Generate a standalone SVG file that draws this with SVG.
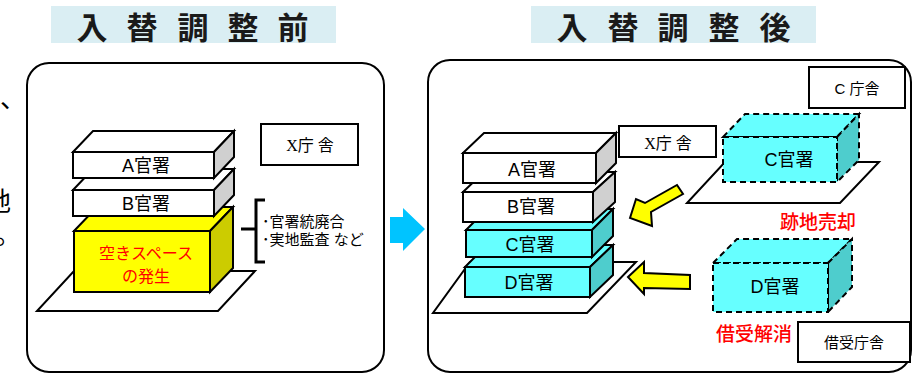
<svg xmlns="http://www.w3.org/2000/svg" width="913" height="374" viewBox="0 0 913 374">
<defs>
<style>
.panel{fill:#fff;stroke:#000;stroke-width:2}
.title{fill:#DAEEF3}
.tt{font-family:"Noto Sans CJK JP",sans-serif;font-size:31px;font-weight:700;fill:#1a1a1a}
.wf{fill:#fff;stroke:#000;stroke-width:2;stroke-linejoin:miter}
.ws{fill:#D0D0D0;stroke:#000;stroke-width:2}
.cf{fill:#66FFFF;stroke:#000;stroke-width:2}
.cs{fill:#4ECDCD;stroke:#000;stroke-width:2}
.yf{fill:#FFFF00;stroke:#000;stroke-width:2}
.ys{fill:#CCCC00;stroke:#000;stroke-width:2}
.dcf{fill:#66FFFF;stroke:#000;stroke-width:2;stroke-dasharray:6 4}
.dcs{fill:#4ECDCD;stroke:#000;stroke-width:2;stroke-dasharray:6 4}
.base{fill:#fff;stroke:#000;stroke-width:2}
.lbl{font-family:"Liberation Sans","Noto Sans CJK JP",sans-serif;font-size:18px;fill:#000;text-anchor:middle;dominant-baseline:central}
.box{fill:#fff;stroke:#000;stroke-width:2}
.sm{font-family:"Liberation Sans","Noto Sans CJK JP",sans-serif;font-size:15px;fill:#000;text-anchor:middle;dominant-baseline:central}
.xs{font-family:"Liberation Serif","Noto Sans CJK JP",serif;font-size:16px;fill:#000;text-anchor:middle;dominant-baseline:central}
.red{font-family:"Noto Sans CJK JP",sans-serif;font-size:19px;font-weight:500;fill:#FF0000;text-anchor:middle;dominant-baseline:central}
.red2{font-family:"Noto Sans CJK JP",sans-serif;font-size:16px;fill:#FF0000;text-anchor:middle;dominant-baseline:central}
.note{font-family:"Liberation Sans","Noto Sans CJK JP",sans-serif;font-size:15px;fill:#000}
.frag{font-family:"Noto Sans CJK JP",sans-serif;font-size:26px;fill:#000}
.ya{fill:#FFFF00;stroke:#000;stroke-width:2;stroke-linejoin:miter}
</style>
</defs>

<g id="edge-fragments">
<text class="frag" x="0" y="108">、</text>
<text class="frag" x="-15" y="211">地</text>
<text class="frag" x="-5" y="244">。</text>
</g>

<g id="title-before">
<rect class="title" x="51" y="6" width="285" height="37"/>
<text class="tt" x="92 142 193 243 293" y="25" text-anchor="middle" dominant-baseline="central">入替調整前</text>
</g>
<g id="title-after">
<rect class="title" x="531" y="6" width="285" height="37"/>
<text class="tt" x="572 623 673 724 775" y="25" text-anchor="middle" dominant-baseline="central">入替調整後</text>
</g>

<g id="panel-before">
<rect class="panel" x="27" y="63" width="357" height="309" rx="22"/>
</g>
<g id="panel-after">
<rect class="panel" x="428" y="60" width="483" height="312" rx="22"/>
</g>

<g id="before-stack">
<polygon class="base" points="37,311 218,311 255,271 74,271"/>
<g id="before-space">
<polygon class="yf" points="74,231 97,207 233,207 210,231"/>
<polygon class="ys" points="210,231 233,207 233,268 210,292"/>
<rect class="yf" x="74" y="231" width="136" height="61"/>
<text class="red2" x="146" y="252">空きスペース</text>
<text class="red2" x="146" y="275">の発生</text>
</g>
<g id="before-b">
<polygon class="wf" points="73,190 93,169 234,169 214,190"/>
<polygon class="ws" points="214,190 234,169 234,195 214,216"/>
<rect class="wf" x="73" y="190" width="141" height="26"/>
<text class="lbl" x="146" y="204">B官署</text>
</g>
<g id="before-a">
<polygon class="wf" points="73,152 93,131 234,131 214,152"/>
<polygon class="ws" points="214,152 234,131 234,157 214,178"/>
<rect class="wf" x="73" y="152" width="141" height="26"/>
<text class="lbl" x="146" y="166">A官署</text>
</g>
</g>

<g id="before-x-label">
<rect class="box" x="261" y="124" width="97" height="41"/>
<text class="xs" x="310" y="145">X庁 舎</text>
</g>

<g id="before-note">
<path d="M265,200 H256 V229 H241 M256,229 V262 H265" fill="none" stroke="#000" stroke-width="3"/>
<text class="note" x="262" y="227">･官署統廃合</text>
<text class="note" x="262" y="245">･実地監査 など</text>
</g>

<g id="after-stack">
<polygon class="base" points="433,313 587,313 636,262 470,262"/>
<g id="after-d">
<polygon class="cf" points="465,267 487,245 613,245 590,267"/>
<polygon class="cs" points="590,267 613,245 613,275 590,297"/>
<rect class="cf" x="465" y="267" width="125" height="30"/>
<text class="lbl" x="529" y="283">D官署</text>
</g>
<g id="after-c">
<polygon class="cf" points="466,230 487,209 613,209 592,230"/>
<polygon class="cs" points="592,230 613,209 613,236 592,257"/>
<rect class="cf" x="466" y="230" width="126" height="27"/>
<text class="lbl" x="530" y="245">C官署</text>
</g>
<g id="after-b">
<polygon class="wf" points="463,192 484,172 615,172 593,192"/>
<polygon class="ws" points="593,192 615,172 615,202 593,222"/>
<rect class="wf" x="463" y="192" width="130" height="30"/>
<text class="lbl" x="531" y="207">B官署</text>
</g>
<g id="after-a">
<polygon class="wf" points="463,153 484,133 616,133 596,153"/>
<polygon class="ws" points="596,153 616,133 616,163 596,183"/>
<rect class="wf" x="463" y="153" width="133" height="30"/>
<text class="lbl" x="532" y="170">A官署</text>
</g>
</g>

<g id="after-x-label">
<rect class="box" x="619" y="126" width="97" height="31"/>
<text class="xs" x="668" y="143">X庁 舎</text>
</g>

<g id="c-label">
<rect class="box" x="809" y="67" width="96" height="41"/>
<text class="sm" x="857" y="88">C 庁舎</text>
</g>

<g id="c-office">
<polygon class="base" points="687,203 840,203 879,162 725,162"/>
<polygon class="dcf" points="723,137 745,114 859,114 837,137"/>
<polygon class="dcs" points="837,137 859,114 859,160 837,182"/>
<rect class="dcf" x="723" y="137" width="114" height="45"/>
<text class="lbl" x="789" y="160">C官署</text>
</g>
<g id="sold-label">
<text class="red" x="818" y="220">跡地売却</text>
</g>

<g id="d-office">
<polygon class="dcf" points="713,263 737,239 852,239 828,263"/>
<polygon class="dcs" points="828,263 852,239 852,287 828,312"/>
<rect class="dcf" x="713" y="263" width="115" height="49"/>
<text class="lbl" x="775" y="287">D官署</text>
</g>
<g id="lease-end-label">
<text class="red" x="754" y="332">借受解消</text>
</g>

<g id="lease-label">
<rect class="box" x="798" y="322" width="112" height="40"/>
<text class="sm" x="854" y="342" font-size="16">借受庁舎</text>
</g>

<g id="connectors">
<polygon fill="#00C4FF" points="390,217 403,217 403,208 425,229 403,251 403,243 390,243"/>
<polygon class="ya" points="630,218 636,199 645,203 677,185 683,194 651,212 652,226"/>
<polygon class="ya" points="628,277 644,262 644,273 690,275 690,289 644,288 644,294"/>
</g>
</svg>
